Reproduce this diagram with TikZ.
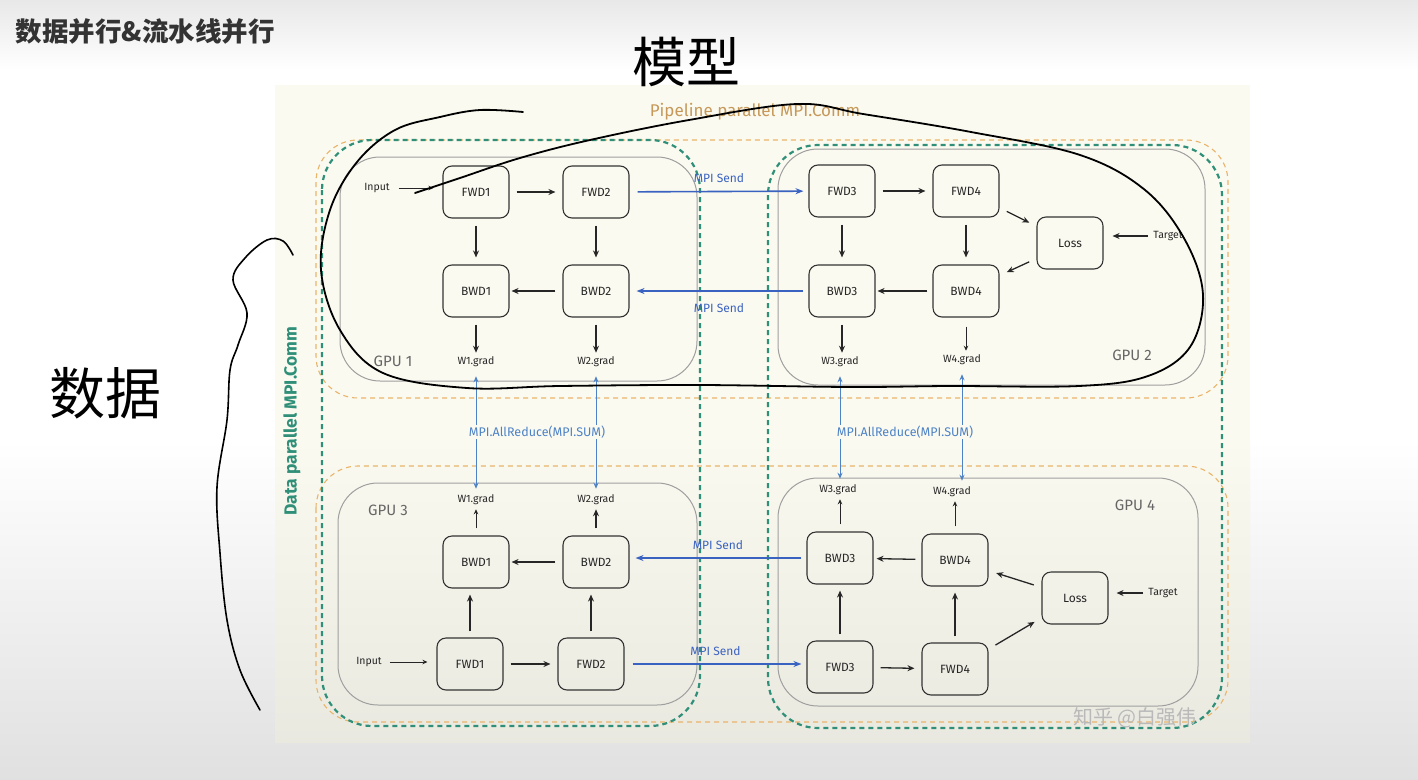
\documentclass[tikz,border=0pt]{standalone}
\usepackage{fontspec}
\usetikzlibrary{arrows.meta}
\newfontfamily\cjk{Noto Sans CJK SC}
\newfontfamily\hand{Fira Sans}
\definecolor{dgreen}{HTML}{2F8F78}
\definecolor{porange}{HTML}{E9B46A}
\definecolor{mpiblue}{HTML}{3A62C0}
\definecolor{arblue}{HTML}{4D82C6}
\definecolor{cream}{HTML}{FBFAF0}
\tikzset{
 blk/.style={draw=black!80, line width=1.1pt, rounded corners=9pt, minimum width=66pt, minimum height=52pt, inner sep=0pt, font=\hand\fontsize{12}{14}\selectfont, text=black!85},
 lbl/.style={font=\hand\fontsize{10.5}{12}\selectfont, text=black!85, inner sep=1pt},
 gpulbl/.style={font=\hand\fontsize{15}{17}\selectfont, text=gray!80!black},
 arr/.style={-{Stealth[length=7pt,width=6pt]}, line width=1.3pt, draw=black!85},
 arrsmall/.style={-{Stealth[length=5pt,width=4.5pt]}, line width=1pt, draw=black!85},
 mpi/.style={-{Stealth[length=8pt,width=6pt]}, line width=1.6pt, draw=mpiblue},
 mpilbl/.style={font=\hand\fontsize{12}{14}\selectfont, text=mpiblue},
 ared/.style={{Stealth[length=6pt,width=5pt]}-{Stealth[length=6pt,width=5pt]}, line width=0.9pt, draw=arblue},
 aredlbl/.style={font=\hand\fontsize{12.5}{14}\selectfont, text=arblue, fill=cream, inner sep=1pt},
 gpubox/.style={draw=gray!75, line width=1pt, rounded corners=40pt},
 pdash/.style={draw=porange, line width=1.1pt, dash pattern=on 5pt off 4pt, rounded corners=42pt},
 ddash/.style={draw=dgreen, line width=2.2pt, dash pattern=on 5pt off 4pt, rounded corners=50pt},
 ink/.style={draw=black, line width=1.8pt, line cap=round, line join=round},
}
\begin{document}
\begin{tikzpicture}[x=1pt,y=-1pt]
\useasboundingbox (0,0) rectangle (1418,779);
% background
\shade[top color=gray!18, bottom color=white] (0,0) rectangle (1418,70);
\fill[white] (0,70) rectangle (1418,440);
\shade[top color=white, bottom color=gray!24] (0,440) rectangle (1418,779);
\fill[cream] (275,85) rectangle (1250,440);
\shade[top color=cream, bottom color=cream!86!gray] (275,440) rectangle (1250,742);

% title
\node[font=\cjk\bfseries\fontsize{26.5}{30}\selectfont, text=black!80, anchor=west] (title) at (12,31) {数据并行\&流水线并行};

% dashed group outlines
\draw[pdash] (316,140) rectangle (1228,398);
\draw[pdash] (316,466) rectangle (1228,722);
\draw[ddash] (322,140) rectangle (700,726);
\draw[ddash] (768,145) rectangle (1222,728);

% GPU boxes
\draw[gpubox] (340,157) rectangle (697,381);
\draw[gpubox] (778,149) rectangle (1205,385);
\draw[gpubox] (338,483) rectangle (697,705);
\draw[gpubox] (778,478) rectangle (1198,706);

% group labels
\node[font=\hand\fontsize{17}{19}\selectfont, text=porange!85!black] (plbl) at (755,112) {Pipeline parallel MPI.Comm};
\node[font=\hand\bfseries\fontsize{17.5}{19}\selectfont, text=dgreen, rotate=90] (dlbl) at (292,421) {Data parallel MPI.Comm};

% ---------- GPU 1 ----------
\node[blk] (F1) at (476,192) {FWD1};
\node[blk] (F2) at (596,192) {FWD2};
\node[blk] (B1) at (476,291) {BWD1};
\node[blk] (B2) at (596,291) {BWD2};
\node[lbl] (G1) at (476,362) {W1.grad};
\node[lbl] (G2) at (596,362) {W2.grad};
\node[lbl] (In1) at (377,188) {Input};
\node[gpulbl] (L1) at (393,361) {GPU 1};
\coordinate (in1s) at ([xshift=8pt]In1.east);
\draw[arrsmall, shorten >=9pt] (in1s) -- (in1s -| F1.west);
\draw[arr, shorten <=7pt, shorten >=7pt] (F1) -- (F2);
\draw[arr, shorten <=7pt, shorten >=7pt] (F1) -- (B1);
\draw[arr, shorten <=7pt, shorten >=7pt] (F2) -- (B2);
\draw[arr, shorten <=7pt, shorten >=2pt] (B2) -- (B1);
\draw[arr, shorten <=7pt, shorten >=3pt] (B1) -- (G1);
\draw[arr, shorten <=7pt, shorten >=3pt] (B2) -- (G2);

% ---------- GPU 2 ----------
\node[blk] (F3) at (842,191) {FWD3};
\node[blk] (F4) at (966,191) {FWD4};
\node[blk] (LS2) at (1070,243) {Loss};
\node[blk] (B3) at (842,291) {BWD3};
\node[blk] (B4) at (966,291) {BWD4};
\node[lbl] (G3) at (840,362) {W3.grad};
\node[lbl] (G4) at (962,360) {W4.grad};
\node[lbl] (T2) at (1168,236) {Target};
\node[gpulbl] (L2) at (1132,355) {GPU 2};
\draw[arr, shorten <=7pt, shorten >=7pt] (F3) -- (F4);
\draw[arr, shorten <=7pt, shorten >=7pt] (F3) -- (B3);
\draw[arr, shorten <=7pt, shorten >=7pt] (F4) -- (B4);
\draw[arr, shorten <=5pt, shorten >=2pt] (B4) -- (B3);
\draw[arr, shorten <=7pt, shorten >=3pt] (B3.south) -- (B3.south |- G3.north);
\draw[arrsmall, shorten <=9pt, shorten >=3pt] (B4.south) -- (B4.south |- G4.north);
\draw[arr, shorten <=8pt, shorten >=8pt] (F4) -- (LS2);
\draw[arr, shorten <=8pt, shorten >=8pt] (LS2) -- (B4);
\draw[arr, shorten <=4pt, shorten >=9pt] (T2.west) -- (T2.west -| LS2.east);

% pipeline sends (top)
\draw[mpi, shorten <=8pt, shorten >=5pt] (F2) -- (F3) node[mpilbl, pos=0.5, above=5pt] (ms1) {MPI Send};
\draw[mpi, shorten <=5pt, shorten >=7pt] (B3) -- (B2) node[mpilbl, pos=0.5, below=8pt] (ms2) {MPI Send};

% ---------- GPU 3 ----------
\node[blk] (F1b) at (470,664) {FWD1};
\node[blk] (F2b) at (591,664) {FWD2};
\node[blk] (B1b) at (476,562) {BWD1};
\node[blk] (B2b) at (596,562) {BWD2};
\node[lbl] (G1b) at (476,500) {W1.grad};
\node[lbl] (G2b) at (596,500) {W2.grad};
\node[lbl] (In3) at (369,662) {Input};
\node[gpulbl] (L3) at (388,510) {GPU 3};
\coordinate (in3s) at ([xshift=7pt]In3.east);
\draw[arrsmall, shorten >=9pt] (in3s) -- (in3s -| F1b.west);
\draw[arr, shorten <=7pt, shorten >=7pt] (F1b) -- (F2b);
\draw[arr, shorten <=6pt, shorten >=6pt] (F1b.north) -- (F1b.north |- B1b.south);
\draw[arr, shorten <=6pt, shorten >=6pt] (F2b.north) -- (F2b.north |- B2b.south);
\draw[arr, shorten <=7pt, shorten >=2pt] (B2b) -- (B1b);
\draw[arrsmall, shorten <=7pt, shorten >=3pt] (B1b) -- (G1b);
\draw[arr, shorten <=7pt, shorten >=3pt] (B2b) -- (G2b);

% ---------- GPU 4 ----------
\node[blk] (F3b) at (840,667) {FWD3};
\node[blk] (F4b) at (955,669) {FWD4};
\node[blk] (LS4) at (1075,598) {Loss};
\node[blk] (B3b) at (840,558) {BWD3};
\node[blk] (B4b) at (955,560) {BWD4};
\node[lbl] (G3b) at (838,490) {W3.grad};
\node[lbl] (G4b) at (952,492) {W4.grad};
\node[lbl] (T4) at (1163,593) {Target};
\node[gpulbl] (L4) at (1135,505) {GPU 4};
\draw[arr, shorten <=7pt, shorten >=7pt] (F3b) -- (F4b);
\draw[arr, shorten <=6pt, shorten >=6pt] (F3b) -- (B3b);
\draw[arr, shorten <=6pt, shorten >=6pt] (F4b) -- (B4b);
\draw[arr, shorten <=6pt, shorten >=3pt] (B4b) -- (B3b);
\draw[arrsmall, shorten <=7pt, shorten >=3pt] (B3b.north) -- (B3b.north |- G3b.south);
\draw[arrsmall, shorten <=7pt, shorten >=3pt] (B4b.north) -- (B4b.north |- G4b.south);
\draw[arr, shorten <=8pt, shorten >=8pt] (F4b) -- (LS4);
\draw[arr, shorten <=8pt, shorten >=8pt] (LS4) -- (B4b);
\draw[arr, shorten <=4pt, shorten >=8pt] (T4.west) -- (T4.west -| LS4.east);

% pipeline sends (bottom)
\draw[mpi, shorten <=5pt, shorten >=6pt] (B3b.west) -- (B3b.west -| B2b.east) node[mpilbl, pos=0.5, above=4pt] (ms3) {MPI Send};
\draw[mpi, shorten <=8pt, shorten >=5pt] (F2b.east) -- (F2b.east -| F3b.west) node[mpilbl, pos=0.5, above=4pt] (ms4) {MPI Send};

% data-parallel all-reduce
\draw[ared, shorten <=8pt, shorten >=5pt] (G1.south) -- (G1.south |- G1b.north);
\draw[ared, shorten <=8pt, shorten >=5pt] (G2.south) -- (G2.south |- G2b.north);
\draw[ared, shorten <=8pt, shorten >=5pt] (G3.south) -- (G3.south |- G3b.north);
\draw[ared, shorten <=8pt, shorten >=5pt] (G4.south) -- (G4.south |- G4b.north);
\node[aredlbl] (ar1) at (537,432) {MPI.AllReduce(MPI.SUM)};
\node[aredlbl] (ar2) at (905,432) {MPI.AllReduce(MPI.SUM)};

% watermark
\node[font=\cjk\fontsize{20}{22}\selectfont, text=gray!55] (wm) at (1135,718) {知乎 @白强伟};

% hand annotations
\node[font=\cjk\fontsize{54}{56}\selectfont, text=black] (hm) at (686,62) {模型};
\node[font=\cjk\fontsize{56}{58}\selectfont, text=black] (hd) at (105,393) {数据};
\draw[ink] plot[smooth, tension=0.6] coordinates {(415,193) (460,178) (520,158) (590,140) (689,120) (797,104) (863,114) (971,132) (1080,155) (1145,190) (1185,240) (1203,295) (1190,347) (1148,376) (1079,386) (950,386) (850,387) (700,385) (560,386) (467,388) (383,373) (340,330) (321,270) (330,210) (357,162) (395,130) (440,117) (480,110) (523,112)};
\draw[ink, line width=1.6pt] plot[smooth, tension=0.6] coordinates {(293,255) (283,241) (267,240) (245,258) (233,280) (247,313) (238,345) (230,370) (227,420) (217,487) (220,553) (227,620) (240,670) (260,710)};
\end{tikzpicture}
\end{document}
